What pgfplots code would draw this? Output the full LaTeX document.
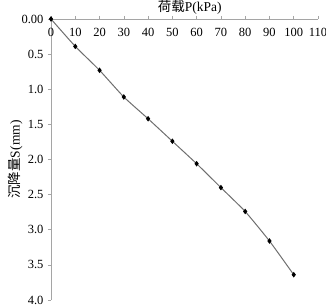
\documentclass[border=0pt]{standalone}
\usepackage{pgfplots}
\pgfplotsset{compat=1.18}
\usepackage{fontspec}
\setmainfont{Liberation Serif}
\newfontfamily\cjk{Noto Sans CJK SC}
\definecolor{axgray}{RGB}{165,165,165}
\definecolor{lngray}{RGB}{110,110,110}
\begin{document}
\begin{tikzpicture}
\path[use as bounding box] (-51pt,-7pt) rectangle (275pt,300pt);
\begin{axis}[
  at={(0pt,0pt)}, anchor=south west,
  scale only axis,
  width=267pt, height=281pt,
  xmin=0, xmax=110, ymin=0, ymax=4,
  y dir=reverse,
  axis x line=top, axis y line=left,
  axis line style={draw=axgray, line width=0.8pt, -},
  xtick={0,10,...,110},
  ytick={0,0.5,...,4},
  yticklabels={0.00,0.5,1.0,1.5,2.0,2.5,3.0,3.5,4.0},
  tick style={draw=axgray, line width=0.6pt},
  major tick length=3pt,
  tick align=outside,
  /pgf/number format/assume math mode=true,
  tick label style={font=\fontsize{12.5}{12.5}\selectfont, text=black},
  xticklabel style={anchor=north, yshift=-9pt},
  yticklabel style={xshift=-1pt},
  xlabel={{\cjk 荷载}P(kPa)},
  ylabel={{\cjk 沉降量}S(mm)},
  label style={font=\fontsize{13.5}{13.5}\selectfont},
  xlabel style={at={(axis description cs:0.52,1)}, anchor=south, yshift=1pt},
  ylabel style={at={(axis description cs:0,0.5)}, anchor=south, yshift=25pt},
  clip=false,
]
\addplot[color=lngray, line width=1pt, smooth, tension=0.3, mark=diamond*, mark size=2pt, mark options={fill=black, draw=black}]
coordinates {(0,0) (10,0.39) (20,0.73) (30,1.11) (40,1.42) (50,1.74) (60,2.06) (70,2.40) (80,2.74) (90,3.16) (100,3.64)};
\end{axis}
\end{tikzpicture}
\end{document}
